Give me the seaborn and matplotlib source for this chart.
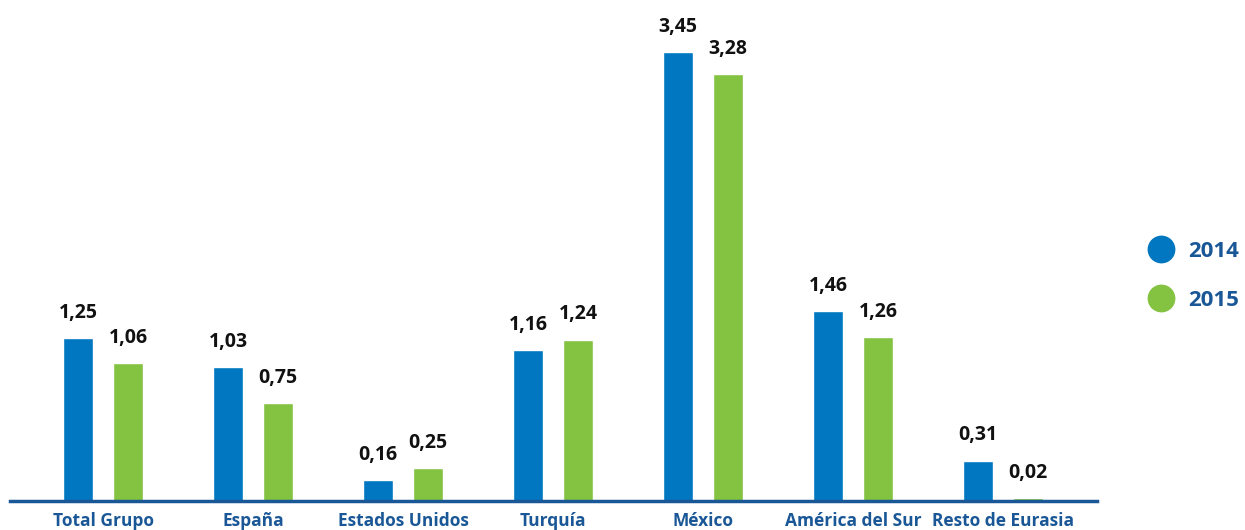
import matplotlib
matplotlib.use("Agg")
import matplotlib.pyplot as plt
from matplotlib.lines import Line2D
import seaborn as sns
import pandas as pd

categories = ["Total Grupo", "España", "Estados Unidos", "Turquía", "México",
              "América del Sur", "Resto de Eurasia"]
years = ["2014", "2015"]
values_2014 = [1.25, 1.03, 0.16, 1.16, 3.45, 1.46, 0.31]
values_2015 = [1.06, 0.75, 0.25, 1.24, 3.28, 1.26, 0.02]

BLUE = "#0077C0"
GREEN = "#84C342"
NAVY = "#1A5796"

df = pd.DataFrame({
    "region": categories * 2,
    "year": [years[0]] * len(categories) + [years[1]] * len(categories),
    "value": values_2014 + values_2015,
})

sns.set_theme(style="white")
plt.rcParams["font.family"] = ["Open Sans", "DejaVu Sans"]

fig = plt.figure(figsize=(12.45, 5.30), dpi=100)
ax = fig.add_axes([10 / 1245, 29 / 530, 1087 / 1245, 471 / 530])

sns.barplot(data=df, x="region", y="value", hue="year", order=categories,
            hue_order=years, palette=[BLUE, GREEN], width=0.6667, gap=0.4,
            saturation=1, legend=False, ax=ax)

ax.set_xlim(-0.62, 6.626)
ax.set_ylim(0, 471 / 130.2)

for container in ax.containers:
    labels = [f"{b.get_height():.2f}".replace(".", ",") for b in container]
    ax.bar_label(container, labels=labels, padding=11, fontsize=14,
                 fontweight="bold", color="#111111")

for side in ["top", "left", "right"]:
    ax.spines[side].set_visible(False)
ax.spines["bottom"].set_color(NAVY)
ax.spines["bottom"].set_linewidth(2.5)
ax.set_yticks([])
ax.set_xlabel("")
ax.set_ylabel("")
ax.tick_params(axis="x", length=0, pad=8)
for lbl in ax.get_xticklabels():
    lbl.set_color(NAVY)
    lbl.set_fontweight("bold")
    lbl.set_fontsize(12.5)

handles = [Line2D([], [], marker="o", linestyle="", markersize=19,
                  markerfacecolor=c, markeredgecolor=c) for c in (BLUE, GREEN)]
leg = fig.legend(handles, years, loc="center left",
                 bbox_to_anchor=(1128 / 1245, 1 - 276 / 530), frameon=False,
                 handletextpad=0.6, labelspacing=1.25, handlelength=1.2,
                 prop={"size": 16, "weight": "bold"})
for t in leg.get_texts():
    t.set_color(NAVY)

fig.savefig("out.png", dpi=100)
